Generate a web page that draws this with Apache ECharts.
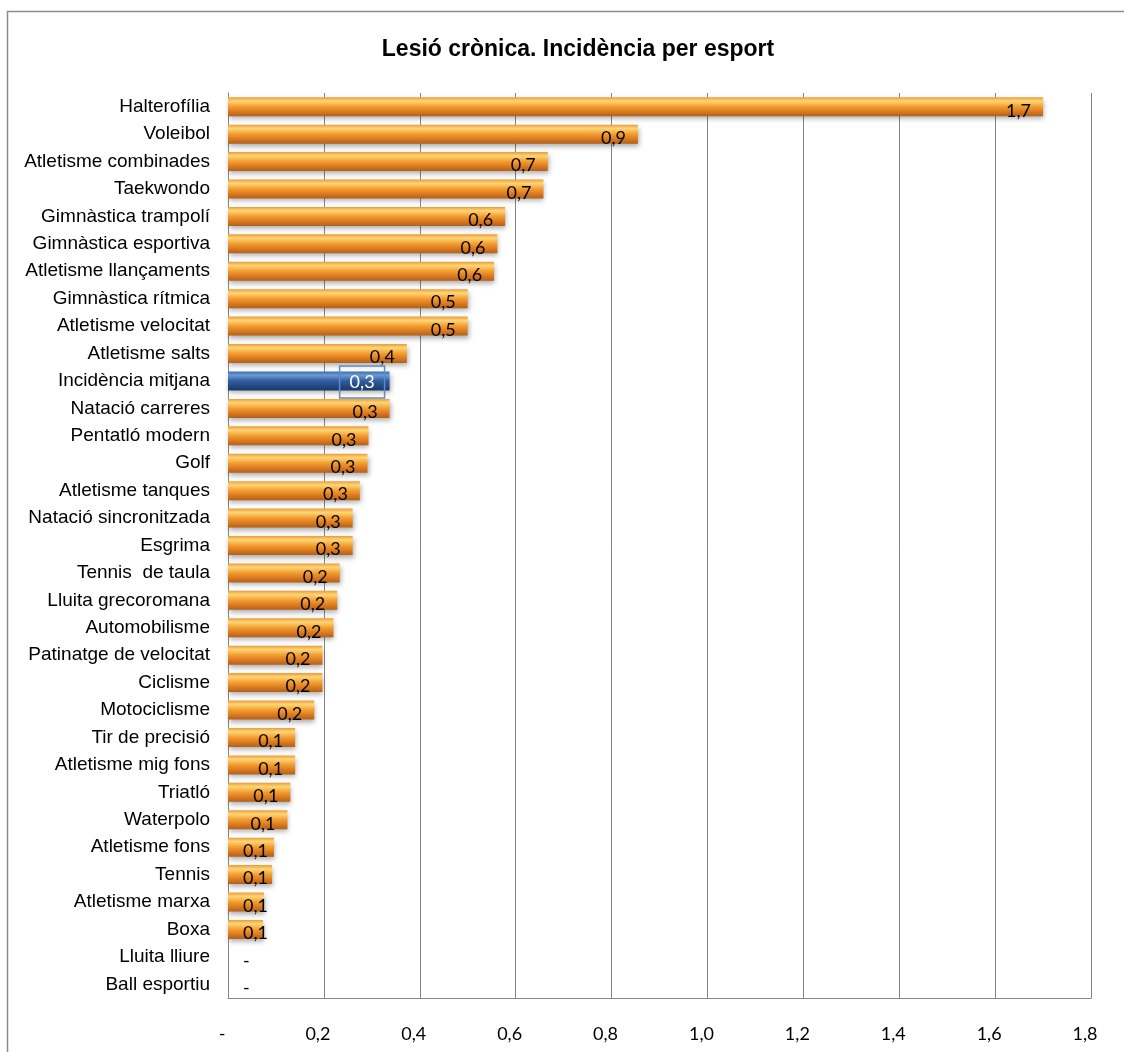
<!DOCTYPE html>
<html>
<head>
<meta charset="utf-8">
<script src="https://cdn.jsdelivr.net/npm/echarts@6/dist/echarts.min.js"></script>
<style>
  html, body { margin: 0; padding: 0; background: #fff; }
  #chart { width: 1124px; height: 1052px; }
</style>
</head>
<body>
<div id="chart"></div>
<script>
// Chronic injury incidence by sport (top to bottom as listed)
const sports = [
  'Halterofília', 'Voleibol', 'Atletisme combinades', 'Taekwondo',
  'Gimnàstica trampolí', 'Gimnàstica esportiva', 'Atletisme llançaments',
  'Gimnàstica rítmica', 'Atletisme velocitat', 'Atletisme salts',
  'Incidència mitjana', 'Natació carreres', 'Pentatló modern', 'Golf',
  'Atletisme tanques', 'Natació sincronitzada', 'Esgrima', 'Tennis  de taula',
  'Lluita grecoromana', 'Automobilisme', 'Patinatge de velocitat', 'Ciclisme',
  'Motociclisme', 'Tir de precisió', 'Atletisme mig fons', 'Triatló',
  'Waterpolo', 'Atletisme fons', 'Tennis', 'Atletisme marxa', 'Boxa',
  'Lluita lliure', 'Ball esportiu'
];
const incidence = [
  1.70, 0.855, 0.667, 0.658,
  0.578, 0.562, 0.555,
  0.50, 0.50, 0.373,
  0.337, 0.337, 0.293, 0.291,
  0.275, 0.26, 0.26, 0.233,
  0.228, 0.22, 0.197, 0.197,
  0.18, 0.14, 0.14, 0.13,
  0.124, 0.096, 0.092, 0.075, 0.073,
  0, 0
];
const averageName = 'Incidència mitjana';
const xTicks = { min: 0, max: 1.8, interval: 0.2 };

function fmt(v) {
  return v === 0 ? '-' : v.toFixed(1).replace('.', ',');
}

// Cylinder-like shading for the bars
const orangeFill = {
  type: 'linear', x: 0, y: 0, x2: 0, y2: 1,
  colorStops: [
    { offset: 0, color: '#EE9A36' },
    { offset: 0.2, color: '#FFD676' },
    { offset: 0.5, color: '#F39C30' },
    { offset: 0.78, color: '#D8771E' },
    { offset: 1, color: '#B0601C' }
  ]
};
const blueFill = {
  type: 'linear', x: 0, y: 0, x2: 0, y2: 1,
  colorStops: [
    { offset: 0, color: '#3E6DB0' },
    { offset: 0.2, color: '#6C9AD6' },
    { offset: 0.5, color: '#2F5D9D' },
    { offset: 1, color: '#1B3868' }
  ]
};

// Reverse so the first sport sits at the top of the category axis
const cats = sports.slice().reverse();
const vals = incidence.slice().reverse();

const barData = vals.map((v, i) => {
  const name = cats[i];
  const item = { value: v, itemStyle: { color: name === averageName ? blueFill : orangeFill } };
  if (name === averageName) {
    item.label = {
      color: '#fff',
      borderColor: '#5B8BC8',
      borderWidth: 1.5,
      padding: [8, 10, 6, 10],
      distance: 5,
      offset: [0, 1]
    };
  } else if (v < 0.105) {
    item.label = { position: 'insideLeft', distance: 15 };
  }
  return item;
});

const chart = echarts.init(document.getElementById('chart'), null, { renderer: 'canvas' });
chart.setOption({
  backgroundColor: '#fff',
  animation: false,
  title: {
    text: 'Lesió crònica. Incidència per esport',
    left: 573, top: 33, textAlign: 'center',
    textStyle: { fontFamily: 'Liberation Sans Narrow, Liberation Sans, Arial', fontWeight: 'bold', fontSize: 23, color: '#000' }
  },
  graphic: [{
    type: 'rect', z: -1, silent: true,
    shape: { x: 7.5, y: 11.5, width: 1200, height: 1200 },
    style: { fill: 'none', stroke: '#8c8c8c', lineWidth: 1.5 }
  }],
  grid: { left: 228, right: 33, top: 93, bottom: 54, containLabel: false },
  xAxis: {
    type: 'value', min: xTicks.min, max: xTicks.max, interval: xTicks.interval,
    axisLine: { show: true, lineStyle: { color: '#868686', width: 1 } },
    axisTick: { show: false },
    splitLine: { show: true, lineStyle: { color: '#868686', width: 1 } },
    axisLabel: {
      formatter: fmt, margin: 27, padding: [0, 12, 0, 0],
      fontFamily: 'Lato, Open Sans, sans-serif', fontSize: 18, color: '#000'
    }
  },
  yAxis: {
    type: 'category', data: cats,
    axisLine: { show: true, lineStyle: { color: '#868686', width: 1 } },
    axisTick: { show: false },
    splitLine: { show: false },
    axisLabel: {
      margin: 18, fontFamily: 'Liberation Sans Narrow, Liberation Sans, Arial',
      fontSize: 19, color: '#000'
    }
  },
  series: [{
    type: 'bar', data: barData, barWidth: 19,
    itemStyle: {
      shadowColor: 'rgba(0,0,0,0.32)', shadowBlur: 5, shadowOffsetX: 1, shadowOffsetY: 3
    },
    label: {
      show: true, position: 'insideRight', distance: 12, offset: [0, 4],
      formatter: p => fmt(p.value),
      fontFamily: 'Lato, Open Sans, sans-serif', fontSize: 18, color: '#000'
    }
  }]
});
</script>
</body>
</html>
